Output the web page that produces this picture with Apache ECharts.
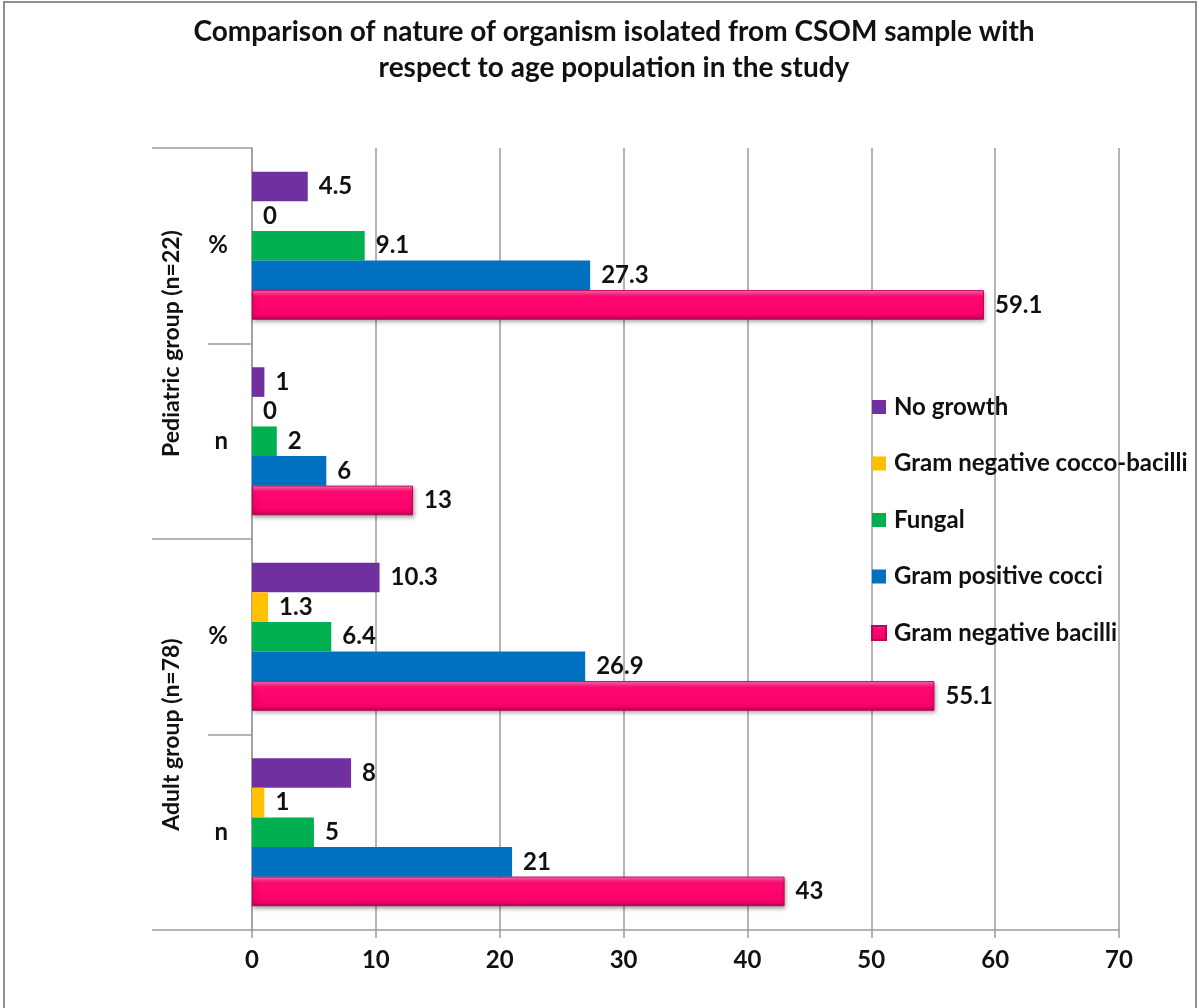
<!DOCTYPE html>
<html>
<head>
<meta charset="utf-8">
<title>Comparison of nature of organism isolated from CSOM sample</title>
<script src="https://cdn.jsdelivr.net/npm/echarts@6/dist/echarts.min.js"></script>
<style>
  html, body { margin: 0; padding: 0; background: #ffffff; }
  #chart { width: 1199px; height: 1008px; }
</style>
</head>
<body>
<div id="chart"></div>
<script>
// Rows, bottom to top: Adult n, Adult %, Pediatric n, Pediatric %
const rowIds = ['adult_n', 'adult_pct', 'ped_n', 'ped_pct'];
const rowLabels = ['n', '%', 'n', '%'];
const groupLabels = ['Adult group (n=78)', 'Pediatric group (n=22)'];

const seriesNames = [
  'No growth',
  'Gram negative cocco-bacilli',
  'Fungal',
  'Gram positive cocci',
  'Gram negative bacilli'
];

// Values per row (same order as rowIds)
const noGrowth          = [8, 10.3, 1, 4.5];
const gramNegCoccoBac   = [1, 1.3, 0, 0];
const fungal            = [5, 6.4, 2, 9.1];
const gramPosCocci      = [21, 26.9, 6, 27.3];
const gramNegBacilli    = [43, 55.1, 13, 59.1];

const xTicks = [0, 10, 20, 30, 40, 50, 60, 70];

const seriesValues = [noGrowth, gramNegCoccoBac, fungal, gramPosCocci, gramNegBacilli];
const seriesColors = ['#7030A0', '#FFC000', '#00B050', '#0070C0', '#FF0A70'];

const FONT = 'Lato, "Open Sans", "DejaVu Sans", sans-serif';
const GRID_GRAY = '#9c9c9c';
const TEXT = '#111111';

// Bevelled look for the pink bars
const pinkFill = new echarts.graphic.LinearGradient(0, 0, 0, 1, [
  { offset: 0.00, color: '#ff86c4' },
  { offset: 0.10, color: '#ff3d92' },
  { offset: 0.20, color: '#ff0a70' },
  { offset: 0.80, color: '#fa006b' },
  { offset: 0.92, color: '#d6005f' },
  { offset: 1.00, color: '#a8004e' }
]);

const series = seriesNames.map(function (name, i) {
  const isPink = i === 4;
  return {
    name: name,
    type: 'bar',
    data: seriesValues[i],
    barGap: '0%',
    barCategoryGap: '24.3%',
    itemStyle: isPink ? {
      color: pinkFill,
      borderColor: '#c2005c',
      borderWidth: 1,
      shadowColor: 'rgba(0,0,0,0.35)',
      shadowBlur: 4,
      shadowOffsetY: 2,
      shadowOffsetX: 1
    } : { color: seriesColors[i] },
    label: {
      show: true,
      position: 'right',
      distance: 11,
      color: TEXT,
      fontFamily: FONT,
      fontWeight: 'bold',
      fontSize: 24
    },
    emphasis: { disabled: true }
  };
});

const chart = echarts.init(document.getElementById('chart'), null, { renderer: 'canvas' });

chart.setOption({
  animation: false,
  backgroundColor: '#ffffff',
  color: seriesColors,
  title: {
    text: 'Comparison of nature of organism isolated from CSOM sample with\nrespect to age population in the study',
    left: 614,
    top: 14,
    padding: 0,
    textAlign: 'center',
    textStyle: {
      fontFamily: FONT,
      fontWeight: 'bold',
      fontSize: 28,
      lineHeight: 36,
      color: TEXT
    }
  },
  legend: {
    orient: 'vertical',
    left: 866,
    top: 390,
    itemWidth: 14,
    itemHeight: 14,
    itemGap: 32.5,
    icon: 'rect',
    data: seriesNames,
    textStyle: {
      fontFamily: FONT,
      fontWeight: 'bold',
      fontSize: 24,
      lineHeight: 24,
      padding: [0, 0, 0, 3],
      color: TEXT
    },
    selectedMode: false
  },
  grid: {
    left: 252,
    right: 80,
    top: 148,
    bottom: 78,
    containLabel: false
  },
  xAxis: {
    type: 'value',
    min: xTicks[0],
    max: xTicks[xTicks.length - 1],
    interval: xTicks[1] - xTicks[0],
    axisLine: { show: true, lineStyle: { color: GRID_GRAY, width: 1.5 } },
    axisTick: { show: true, length: 8, lineStyle: { color: GRID_GRAY, width: 1.5 } },
    splitLine: { show: true, lineStyle: { color: GRID_GRAY, width: 1.5 } },
    axisLabel: {
      margin: 18,
      color: TEXT,
      fontFamily: FONT,
      fontWeight: 'bold',
      fontSize: 24
    }
  },
  yAxis: [
    {
      type: 'category',
      data: rowIds,
      position: 'left',
      axisLine: { show: true, lineStyle: { color: GRID_GRAY, width: 1.5 } },
      axisTick: { show: true, length: 44, lineStyle: { color: GRID_GRAY, width: 1.5 } },
      axisLabel: {
        interval: 0,
        margin: 24,
        color: TEXT,
        fontFamily: FONT,
        fontWeight: 'bold',
        fontSize: 24,
        formatter: function (value, index) { return rowLabels[index]; }
      },
      splitLine: { show: false }
    },
    {
      type: 'category',
      data: groupLabels,
      position: 'left',
      offset: 0,
      axisLine: { show: false },
      axisTick: { show: true, length: 100, lineStyle: { color: GRID_GRAY, width: 1.5 } },
      axisLabel: {
        interval: 0,
        rotate: 90,
        margin: 80,
        align: 'center',
        verticalAlign: 'middle',
        color: TEXT,
        fontFamily: FONT,
        fontWeight: 'bold',
        fontSize: 23
      },
      splitLine: { show: false }
    }
  ],
  graphic: [
    {
      type: 'rect',
      shape: { x: 4, y: 2, width: 1192, height: 1020 },
      style: { fill: 'none', stroke: '#8f8f8f', lineWidth: 2 },
      silent: true,
      z: -1
    }
  ],
  series: series
});
</script>
</body>
</html>
